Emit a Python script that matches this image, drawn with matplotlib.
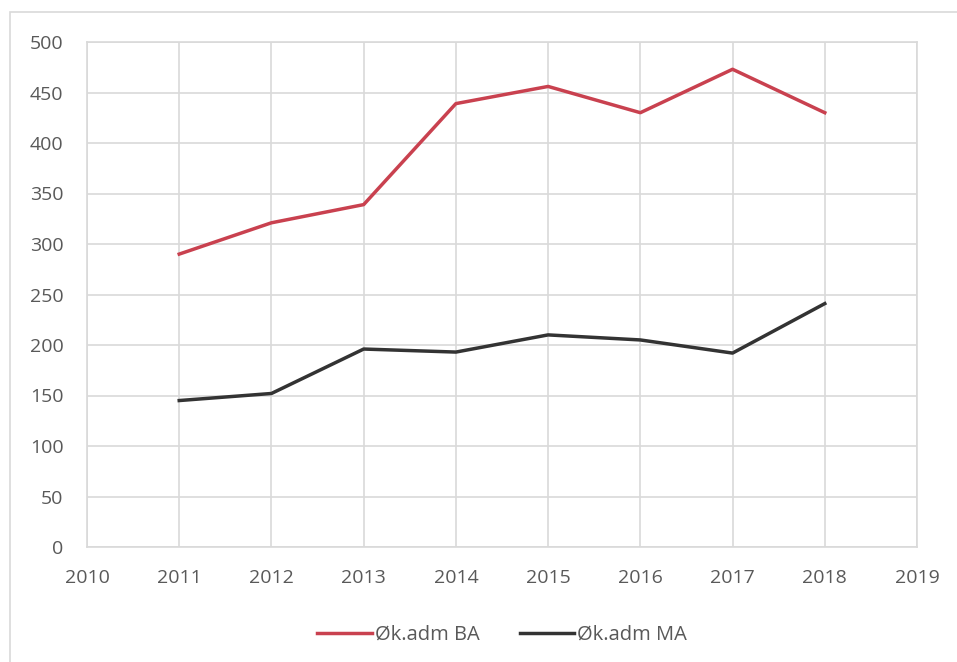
import matplotlib
matplotlib.use('Agg')
import matplotlib.pyplot as plt
from matplotlib.patches import Rectangle

years = [2011, 2012, 2013, 2014, 2015, 2016, 2017, 2018]
ba_values = [290, 321, 339, 439, 456, 430, 473, 430]
ma_values = [145, 152, 196, 193, 210, 205, 192, 241]
x_ticks = list(range(2010, 2020))
y_ticks = list(range(0, 501, 50))

plt.rcParams['font.family'] = ['Open Sans', 'DejaVu Sans']
text_col = '#595959'
grid_col = '#D9D9D9'

fig = plt.figure(figsize=(9.57, 6.62), dpi=100)
ax = fig.add_axes([87 / 957, 1 - 547 / 662, (917 - 87) / 957, (547 - 42) / 662])

# chart frame like Excel's outer border
fig.patches.append(Rectangle((10 / 957, -0.1), 1.2, 1 - 12 / 662 + 0.1,
                             transform=fig.transFigure, fill=False,
                             edgecolor=grid_col, linewidth=1.2))

ax.plot(years, ba_values, color='#C9414F', linewidth=2.5, label='Øk.adm BA')
ax.plot(years, ma_values, color='#333333', linewidth=2.5, label='Øk.adm MA')

ax.set_xlim(2010, 2019)
ax.set_ylim(0, 500)
ax.set_xticks(x_ticks)
ax.set_yticks(y_ticks)
ax.grid(True, color=grid_col, linewidth=1.2)
ax.set_axisbelow(True)
for s in ax.spines.values():
    s.set_color(grid_col)
    s.set_linewidth(1.2)
ax.tick_params(length=0, colors=text_col, labelsize=14)
ax.tick_params(axis='x', pad=16)
ax.tick_params(axis='y', pad=17)

ax.legend(loc='upper center', bbox_to_anchor=(0.5, -0.118), ncol=2, frameon=False,
          fontsize=14.5, labelcolor=text_col, handlelength=2.7, handletextpad=0.15,
          columnspacing=2.0)

fig.savefig('out.png', dpi=100)
